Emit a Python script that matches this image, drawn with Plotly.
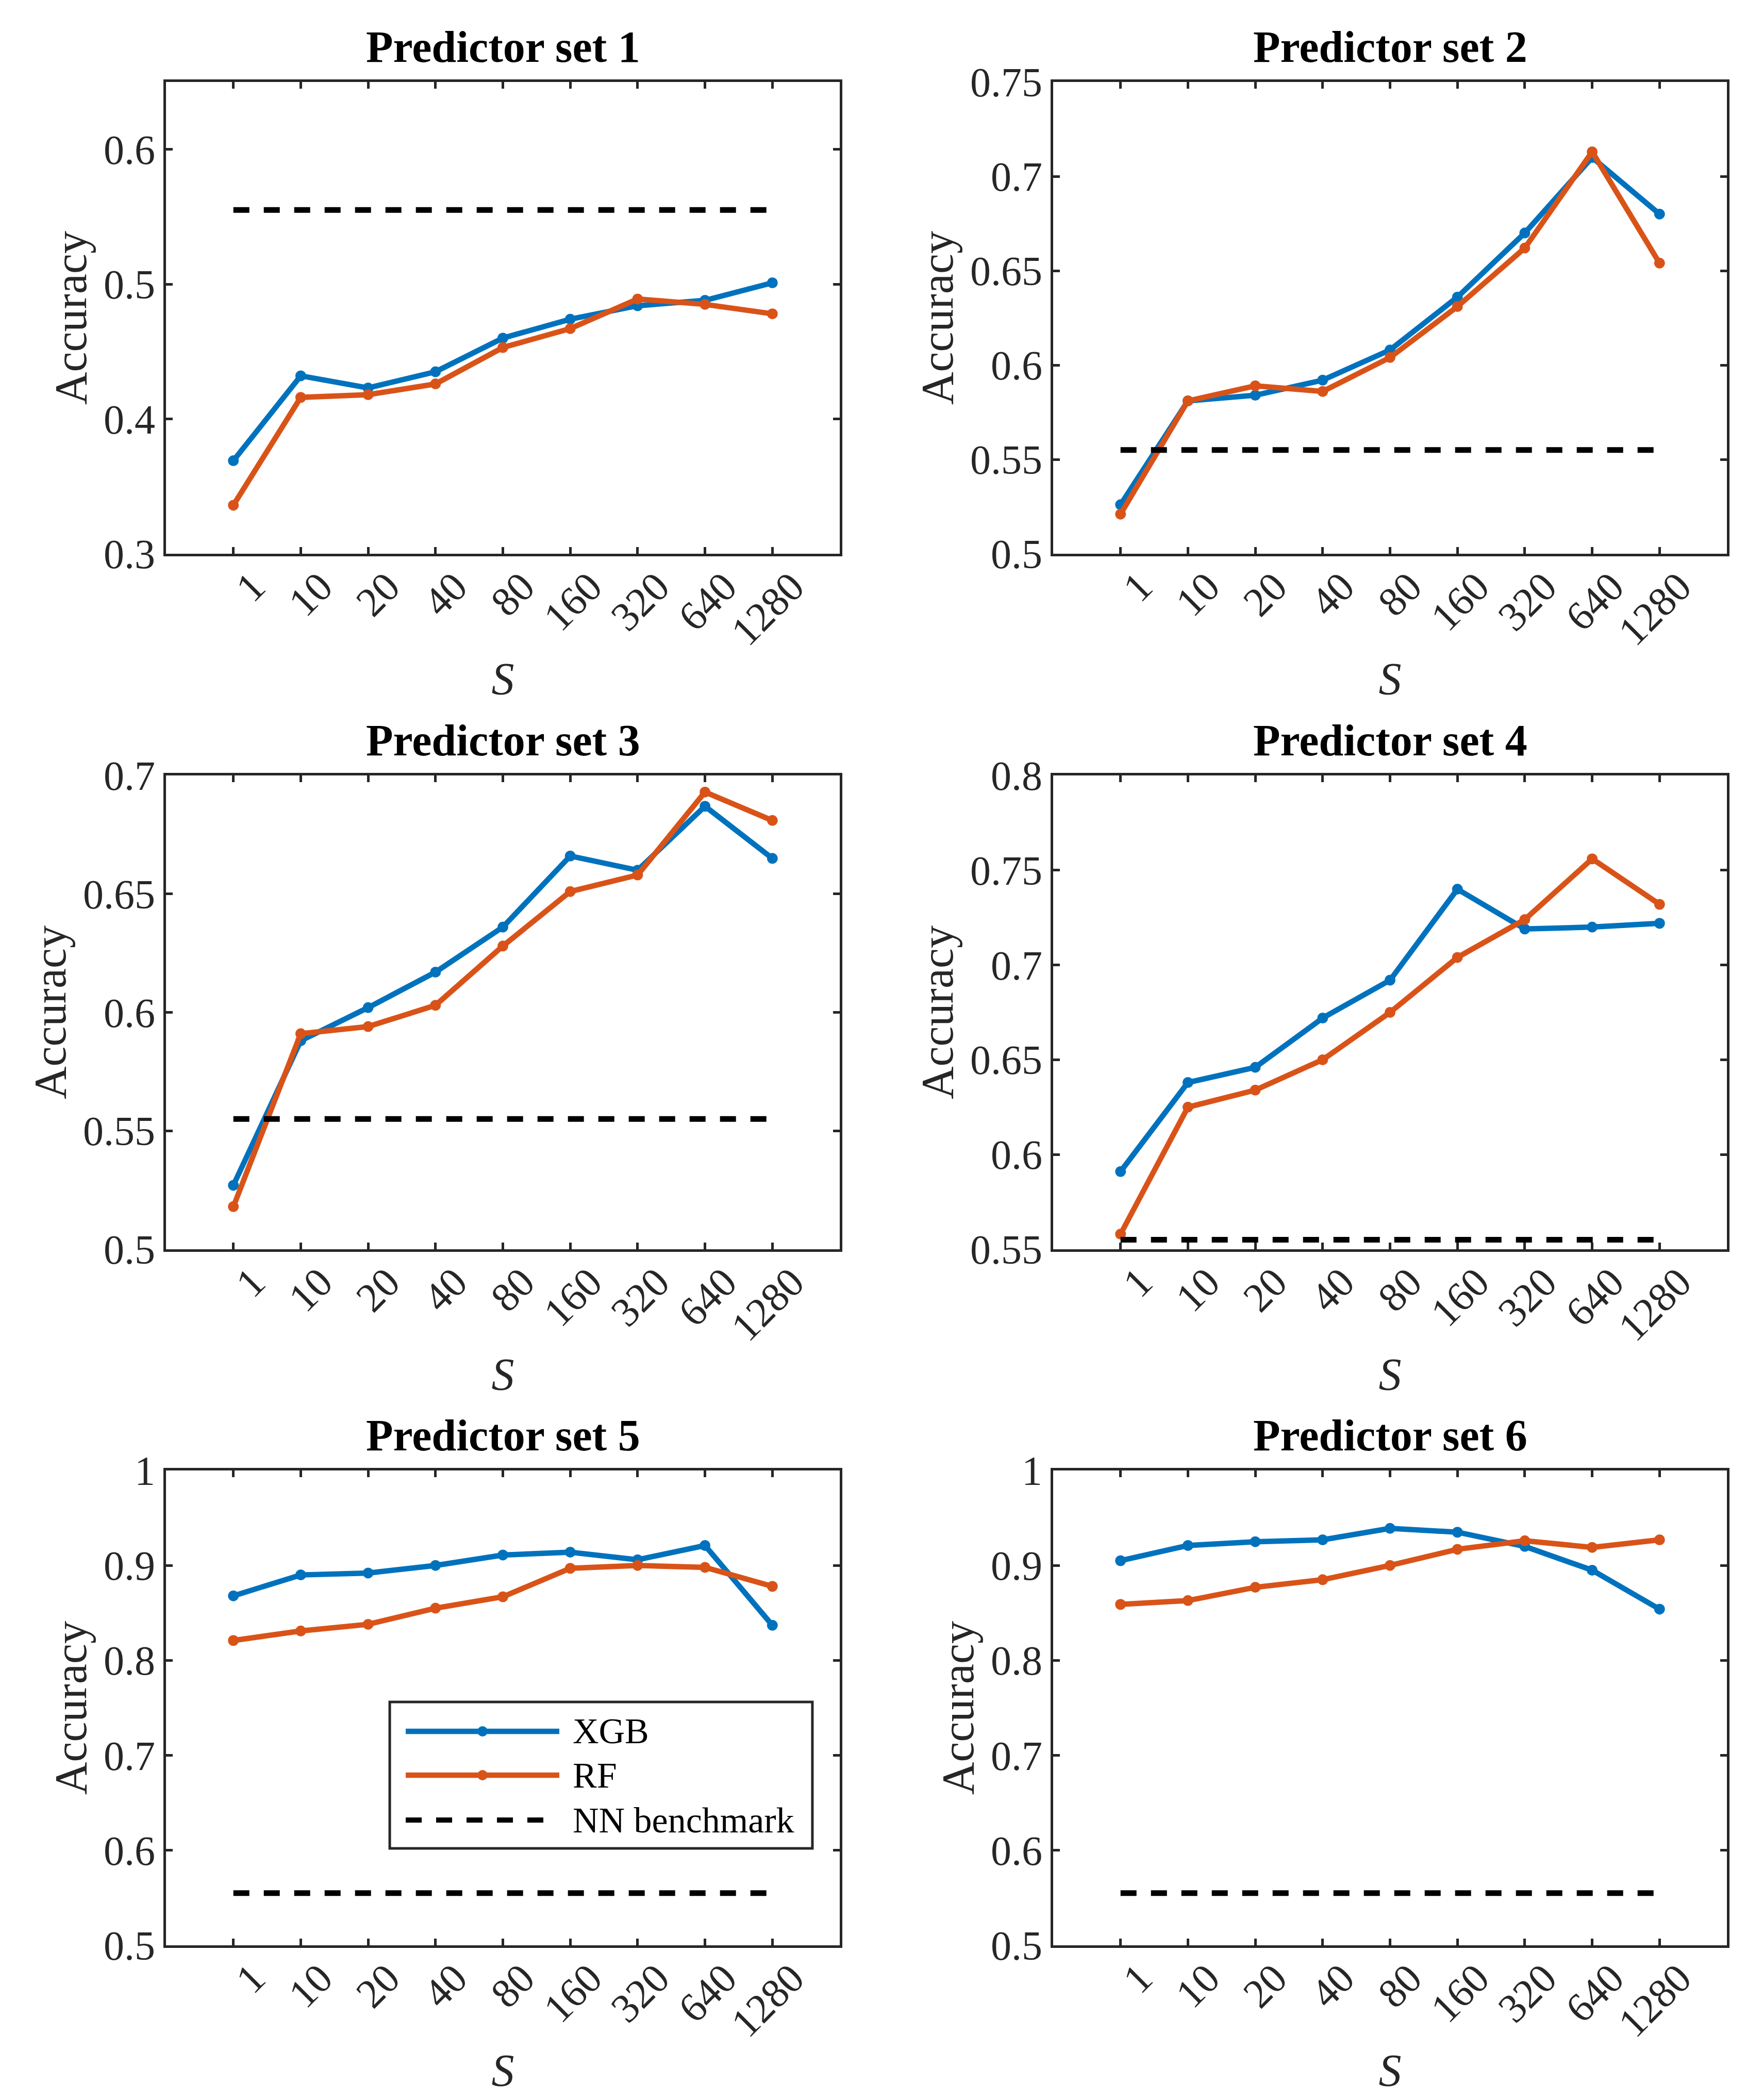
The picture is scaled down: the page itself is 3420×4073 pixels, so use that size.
import plotly.graph_objects as go

# ---------------- data ----------------
S_labels = ["1", "10", "20", "40", "80", "160", "320", "640", "1280"]
nn_benchmark = 0.555

xgb_1 = [0.369, 0.432, 0.423, 0.435, 0.460, 0.474, 0.484, 0.488, 0.501]
rf_1 = [0.336, 0.416, 0.418, 0.426, 0.453, 0.467, 0.489, 0.485, 0.478]
xgb_2 = [0.526, 0.581, 0.584, 0.592, 0.608, 0.636, 0.670, 0.710, 0.680]
rf_2 = [0.521, 0.581, 0.589, 0.586, 0.604, 0.631, 0.662, 0.713, 0.654]
xgb_3 = [0.527, 0.588, 0.602, 0.617, 0.636, 0.666, 0.660, 0.687, 0.665]
rf_3 = [0.518, 0.591, 0.594, 0.603, 0.628, 0.651, 0.658, 0.693, 0.681]
xgb_4 = [0.591, 0.638, 0.646, 0.672, 0.692, 0.740, 0.719, 0.720, 0.722]
rf_4 = [0.558, 0.625, 0.634, 0.650, 0.675, 0.704, 0.724, 0.756, 0.732]
xgb_5 = [0.868, 0.890, 0.892, 0.900, 0.911, 0.914, 0.906, 0.921, 0.837]
rf_5 = [0.821, 0.831, 0.838, 0.855, 0.867, 0.897, 0.900, 0.898, 0.878]
xgb_6 = [0.905, 0.921, 0.925, 0.927, 0.939, 0.935, 0.920, 0.895, 0.854]
rf_6 = [0.859, 0.863, 0.877, 0.885, 0.900, 0.917, 0.926, 0.919, 0.927]

titles = ["Predictor set 1", "Predictor set 2", "Predictor set 3",
          "Predictor set 4", "Predictor set 5", "Predictor set 6"]
y_ranges = [[0.3, 0.65], [0.5, 0.75], [0.5, 0.7], [0.55, 0.8], [0.5, 1.0], [0.5, 1.0]]
y_ticks = [
    [0.3, 0.4, 0.5, 0.6],
    [0.5, 0.55, 0.6, 0.65, 0.7, 0.75],
    [0.5, 0.55, 0.6, 0.65, 0.7],
    [0.55, 0.6, 0.65, 0.7, 0.75, 0.8],
    [0.5, 0.6, 0.7, 0.8, 0.9, 1.0],
    [0.5, 0.6, 0.7, 0.8, 0.9, 1.0],
]
xgb_all = [xgb_1, xgb_2, xgb_3, xgb_4, xgb_5, xgb_6]
rf_all = [rf_1, rf_2, rf_3, rf_4, rf_5, rf_6]
legend_names = ["XGB", "RF", "NN benchmark"]

# ---------------- style ----------------
BLUE = "#0072BD"
ORANGE = "#D95319"
AX = "#262626"
FONT = "Liberation Serif"
W, H = 3420, 4073
LW, MS = 10.5, 21
DASH = "31px,28px"

col_x = [(314 / W, 1621 / W), (2035 / W, 3342 / W)]
row_y = [(1 - 1066 / H, 1 - 151 / H), (1 - 2415 / H, 1 - 1496 / H), (1 - 3765 / H, 1 - 2844 / H)]

fig = go.Figure()
layout = {}
annotations = []

for i in range(6):
    r, c = divmod(i, 2)
    suf = "" if i == 0 else str(i + 1)
    xa, ya = "x" + suf, "y" + suf
    fig.add_trace(go.Scatter(x=S_labels, y=xgb_all[i], mode="lines+markers",
                             line=dict(color=BLUE, width=LW),
                             marker=dict(size=MS, color=BLUE),
                             xaxis=xa, yaxis=ya, showlegend=False, name="XGB"))
    fig.add_trace(go.Scatter(x=S_labels, y=rf_all[i], mode="lines+markers",
                             line=dict(color=ORANGE, width=LW),
                             marker=dict(size=MS, color=ORANGE),
                             xaxis=xa, yaxis=ya, showlegend=False, name="RF"))
    fig.add_trace(go.Scatter(x=S_labels, y=[nn_benchmark] * len(S_labels), mode="lines",
                             line=dict(color="black", width=11, dash=DASH),
                             xaxis=xa, yaxis=ya, showlegend=False, name="NN benchmark"))

    common = dict(showline=True, linecolor=AX, linewidth=5, mirror="ticks",
                  ticks="inside", ticklen=13, tickwidth=5, tickcolor=AX,
                  showgrid=False, zeroline=False, automargin=False)
    layout["xaxis" + suf] = dict(
        domain=list(col_x[c]), anchor=ya, type="category", range=[-1, 9],
        tickangle=-45, tickfont=dict(family=FONT, size=80, color=AX),
        ticklabelstandoff=-20, ticklabelshift=38,
        title=dict(text="<i>S</i>", font=dict(family=FONT, size=88, color=AX), standoff=18),
        **common)
    layout["yaxis" + suf] = dict(
        domain=list(row_y[r]), anchor=xa, range=y_ranges[i],
        tickvals=y_ticks[i], ticktext=[f"{v:g}" for v in y_ticks[i]],
        tickfont=dict(family=FONT, size=80, color=AX), ticklabelstandoff=0,
        title=dict(text="Accuracy", font=dict(family=FONT, size=88, color=AX), standoff=6),
        **common)
    annotations.append(dict(text="<b>" + titles[i] + "</b>", xref=xa + " domain", yref=ya + " domain",
                            x=0.5, y=1, xanchor="center", yanchor="bottom", yshift=18,
                            showarrow=False, font=dict(family=FONT, size=86, color="black")))

# ---------------- legend (inside panel 5) ----------------
lx, ly = "x5 domain", "y5 domain"
shapes = [dict(type="rect", xref=lx, yref=ly, x0=0.3321, x1=0.9594, y0=0.2041, y1=0.5125,
               line=dict(color=AX, width=5), fillcolor="white", layer="above")]
leg_rows = [0.4506, 0.3583, 0.2638]
leg_colors = [BLUE, ORANGE, "black"]
for k in range(3):
    if k < 2:
        shapes.append(dict(type="line", xref=lx, yref=ly, x0=0.3558, x1=0.5838,
                           y0=leg_rows[k], y1=leg_rows[k],
                           line=dict(color=leg_colors[k], width=LW), layer="above"))
        shapes.append(dict(type="circle", xref=lx, yref=ly, xsizemode="pixel", ysizemode="pixel",
                           xanchor=0.4698, yanchor=leg_rows[k], x0=-10, x1=10, y0=-10, y1=10,
                           fillcolor=leg_colors[k], line=dict(width=0), layer="above"))
    else:
        shapes.append(dict(type="line", xref=lx, yref=ly, x0=0.3558, x1=0.5631,
                           y0=leg_rows[k], y1=leg_rows[k],
                           line=dict(color="black", width=10, dash=DASH), layer="above"))
    annotations.append(dict(text=legend_names[k], xref=lx, yref=ly, x=0.6021, y=leg_rows[k],
                            xanchor="left", yanchor="middle", showarrow=False,
                            font=dict(family=FONT, size=70, color="black")))

fig.update_layout(width=W, height=H, margin=dict(l=0, r=0, t=0, b=0),
                  paper_bgcolor="white", plot_bgcolor="white",
                  font=dict(family=FONT, color=AX),
                  annotations=annotations, shapes=shapes, showlegend=False, **layout)

fig.write_html("out.html")
